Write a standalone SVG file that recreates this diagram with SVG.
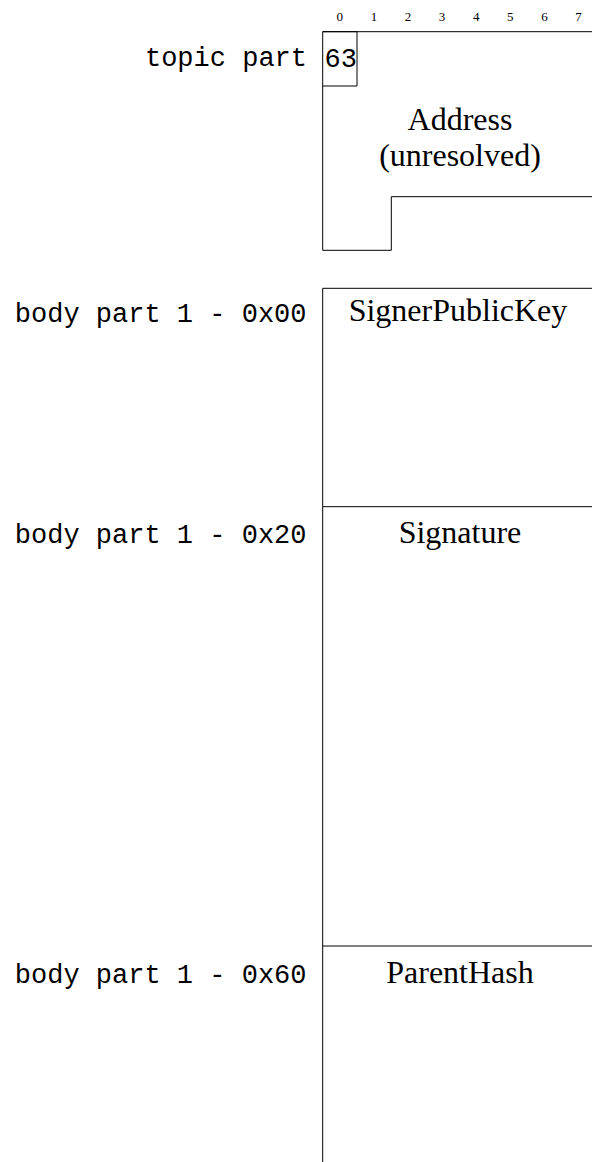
<svg xmlns="http://www.w3.org/2000/svg" width="592" height="1162" viewBox="0 0 592 1162">
<style>
.ln{fill:none;stroke:#000;stroke-width:1}
.mono{font-family:"Liberation Mono","DejaVu Sans Mono",monospace;font-size:27px;fill:#000}
.ser{font-family:"Liberation Serif","DejaVu Serif",serif;font-size:32px;fill:#000;text-anchor:middle}
.idx{font-family:"Liberation Serif","DejaVu Serif",serif;font-size:13px;fill:#000;text-anchor:middle}
.lbl{text-anchor:end}
</style>
<rect width="592" height="1162" fill="#fff"/>
<g id="column-index">
<text class="idx" x="339.8" y="21">0</text>
<text class="idx" x="373.9" y="21">1</text>
<text class="idx" x="408" y="21">2</text>
<text class="idx" x="442.1" y="21">3</text>
<text class="idx" x="476.2" y="21">4</text>
<text class="idx" x="510.3" y="21">5</text>
<text class="idx" x="544.4" y="21">6</text>
<text class="idx" x="578.5" y="21">7</text>
</g>
<g id="topic-part">
<text class="mono lbl" x="307" y="66">topic part</text>
<path class="ln" d="M592,31.7 H322.7 V250.3 H391.3 V196.7 H592"/>
</g>
<g id="topic-byte-63">
<path class="ln" d="M322.7,31.7 H357 V86 H322.7"/>
<text class="mono" x="324.5" y="66.5">63</text>
</g>
<g id="address">
<text class="ser" x="460" y="130">Address</text>
<text class="ser" x="460" y="166">(unresolved)</text>
</g>
<g id="body-0x00">
<text class="mono lbl" x="306.5" y="321.5">body part 1 - 0x00</text>
<path class="ln" d="M592,288.3 H322.7 V506.7"/>
<text class="ser" x="458" y="321">SignerPublicKey</text>
</g>
<g id="body-0x20">
<text class="mono lbl" x="306.5" y="543">body part 1 - 0x20</text>
<path class="ln" d="M592,506.7 H322.7 V946"/>
<text class="ser" x="460" y="543">Signature</text>
</g>
<g id="body-0x60">
<text class="mono lbl" x="306.5" y="983">body part 1 - 0x60</text>
<path class="ln" d="M592,946 H322.7 V1162"/>
<text class="ser" x="460" y="983">ParentHash</text>
</g>
</svg>
